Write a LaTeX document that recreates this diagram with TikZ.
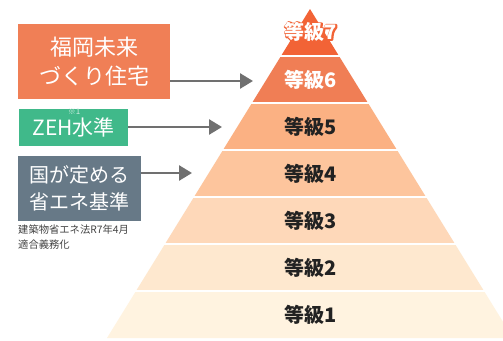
\documentclass[tikz,border=0pt]{standalone}
\usepackage{fontspec}
\setmainfont{Noto Sans CJK JP}
\usetikzlibrary{arrows.meta}
\definecolor{c7}{HTML}{F26336}
\definecolor{c6}{HTML}{F07E55}
\definecolor{c5}{HTML}{FBB183}
\definecolor{c4}{HTML}{FDC59D}
\definecolor{c3}{HTML}{FED8B9}
\definecolor{c2}{HTML}{FEE8CF}
\definecolor{c1}{HTML}{FFF3E0}
\definecolor{boxor}{HTML}{F07F56}
\definecolor{boxgr}{HTML}{40B98A}
\definecolor{boxgy}{HTML}{677987}
\definecolor{arrgy}{HTML}{707070}
\definecolor{txt}{HTML}{222222}
\newcommand{\outlinedtext}[1]{\rlap{\special{pdf:literal direct 2.6 w 1 j 0.949 0.388 0.212 RG 1 Tr}#1\special{pdf:literal direct 0 Tr}}#1}
\begin{document}
\begin{tikzpicture}[x=1pt,y=-1pt,
  lvl/.style={font=\fontsize{20}{22}\selectfont\bfseries, text=txt, inner sep=0pt},
  lvlw/.style={lvl, text=white},
  sidebox/.style={inner sep=0pt, text=white, align=center, font=\fontsize{21}{28}\selectfont},
  arr/.style={draw=arrgy, line width=2.6pt, -{Triangle[length=13pt,width=15pt]}},
  note/.style={font=\fontsize{10.3}{15}\selectfont, text=txt!85, align=left, inner sep=0pt, anchor=north west}
]
\useasboundingbox (0,0) rectangle (503,340);
\fill[white] (0,0) rectangle (503,340);
\begin{scope}
\clip (0,0) rectangle (503,340);
\fill[c1] (107,338) -- (136,291) -- (484,291) -- (513,338) -- cycle;
\fill[c2] (136,291) -- (165,244) -- (455,244) -- (484,291) -- cycle;
\fill[c3] (165,244) -- (194,197) -- (426,197) -- (455,244) -- cycle;
\fill[c4] (194,197) -- (223,150) -- (397,150) -- (426,197) -- cycle;
\fill[c5] (223,150) -- (252,103) -- (368,103) -- (397,150) -- cycle;
\fill[c6] (252,103) -- (281,56) -- (339,56) -- (368,103) -- cycle;
\fill[c7] (281,56) -- (310,9) -- (339,56) -- cycle;
\foreach \yy in {56,103,150,197,244,291}
  \draw[white, line width=1.3pt] (100,\yy) -- (503,\yy);
\end{scope}
% level labels
\node[lvlw] (lv7) at (311,32) {\outlinedtext{等級7}};
\node[lvlw] (lv6) at (311,79.5) {等級6};
\node[lvl] (lv5) at (311,126.5) {等級5};
\node[lvl] (lv4) at (311,173.5) {等級4};
\node[lvl] (lv3) at (311,220.5) {等級3};
\node[lvl] (lv2) at (311,267.5) {等級2};
\node[lvl] (lv1) at (311,314.5) {等級1};
% side boxes
\node[sidebox, fill=boxor, minimum width=152pt, minimum height=75pt, font=\fontsize{22}{29}\selectfont] (b1) at (94,61.5) {福岡未来\\づくり住宅};
\node[sidebox, fill=boxgr, minimum width=109pt, minimum height=37pt] (b2) at (73.5,127.5) {ZEH水準};
\node[font=\fontsize{8}{8}\selectfont, text=white!75!boxgr, inner sep=0pt] (b2n) at (74,111.5) {※1};
\node[sidebox, fill=boxgy, minimum width=123pt, minimum height=65pt, font=\fontsize{20}{27}\selectfont] (b3) at (79.5,188.5) {国が定める\\省エネ基準};
\node[note] (n3) at (18,225) {建築物省エネ法R7年4月\\適合義務化};
% arrows
\coordinate (t1) at (253,81);
\coordinate (t2) at (222,127);
\coordinate (t3) at (192,173);
\draw[arr] (t1 -| b1.east) -- (t1);
\draw[arr] (t2 -| b2.east) -- (t2);
\draw[arr] (t3 -| b3.east) -- (t3);
\end{tikzpicture}
\end{document}
